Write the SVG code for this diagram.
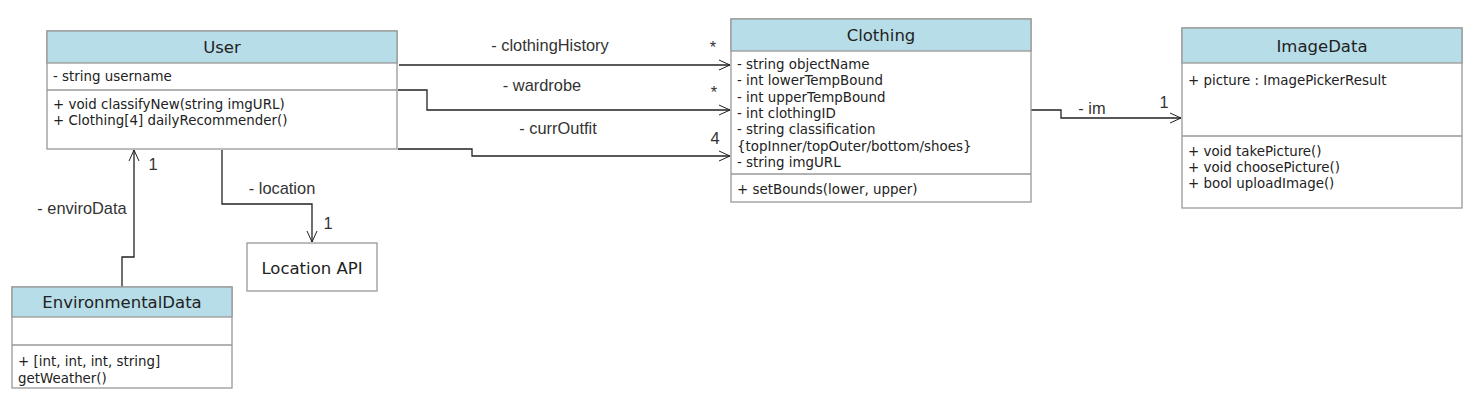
<svg xmlns="http://www.w3.org/2000/svg" width="1483" height="407" viewBox="0 0 1483 407">
<style>
.box{fill:#fff;stroke:#999;stroke-width:1.3}
.hdr{fill:#b7dde8;stroke:#999;stroke-width:1.3}
.sep{stroke:#999;stroke-width:1.3}
.t{font-family:"DejaVu Sans",Verdana,sans-serif;font-size:13.4px;fill:#222}
.title{font-family:"DejaVu Sans",Verdana,sans-serif;font-size:16.5px;fill:#222;text-anchor:middle}
.lbl{font-family:"Liberation Sans",Arial,sans-serif;font-size:16.4px;fill:#333}
.c{fill:none;stroke:#222;stroke-width:1.3}
</style>
<defs>
<marker id="open" viewBox="0 0 12 12" refX="11" refY="6" markerWidth="12" markerHeight="12" markerUnits="userSpaceOnUse" orient="auto">
<path d="M0,1 L11,6 L0,11" fill="none" stroke="#222" stroke-width="1"/>
</marker>
</defs>
<rect width="1483" height="407" fill="#fff"/>

<g id="connectors">
<path class="c" d="M399,65 H730" marker-end="url(#open)"/>
<path class="c" d="M398,90 H427 V110 H730" marker-end="url(#open)"/>
<path class="c" d="M398,149 H472 V156 H730" marker-end="url(#open)"/>
<path class="c" d="M1031,110 H1061 V118 H1181" marker-end="url(#open)"/>
<path class="c" d="M122,287 V257 H134 V150" marker-end="url(#open)"/>
<path class="c" d="M222,150 V204 H312 V242" marker-end="url(#open)"/>
<text class="lbl" x="550" y="51" text-anchor="middle">- clothingHistory</text>
<text class="lbl" x="713" y="53" text-anchor="middle">*</text>
<text class="lbl" x="542" y="91" text-anchor="middle">- wardrobe</text>
<text class="lbl" x="714" y="98" text-anchor="middle">*</text>
<text class="lbl" x="558" y="134" text-anchor="middle">- currOutfit</text>
<text class="lbl" x="715" y="144" text-anchor="middle">4</text>
<text class="lbl" x="1092" y="114" text-anchor="middle">- im</text>
<text class="lbl" x="1164" y="108" text-anchor="middle">1</text>
<text class="lbl" x="82" y="214" text-anchor="middle">- enviroData</text>
<text class="lbl" x="153" y="170" text-anchor="middle">1</text>
<text class="lbl" x="282" y="194" text-anchor="middle">- location</text>
<text class="lbl" x="328" y="229" text-anchor="middle">1</text>
</g>

<g id="User">
<rect class="box" x="47" y="31" width="350" height="118"/>
<rect class="hdr" x="47" y="31" width="350" height="32"/>
<line class="sep" x1="47" y1="90" x2="397" y2="90"/>
<text class="title" x="222" y="53">User</text>
<text class="t" x="53" y="81">- string username</text>
<text class="t" x="53" y="109">+ void classifyNew(string imgURL)</text>
<text class="t" x="53" y="125">+ Clothing[4] dailyRecommender()</text>
</g>

<g id="Clothing">
<rect class="box" x="731" y="19" width="300" height="183"/>
<rect class="hdr" x="731" y="19" width="300" height="32"/>
<line class="sep" x1="731" y1="174" x2="1031" y2="174"/>
<text class="title" x="881" y="41">Clothing</text>
<text class="t" x="737" y="69">- string objectName</text>
<text class="t" x="737" y="85">- int lowerTempBound</text>
<text class="t" x="737" y="102">- int upperTempBound</text>
<text class="t" x="737" y="118">- int clothingID</text>
<text class="t" x="737" y="134">- string classification</text>
<text class="t" x="737" y="151">{topInner/topOuter/bottom/shoes}</text>
<text class="t" x="737" y="167">- string imgURL</text>
<text class="t" x="737" y="194">+ setBounds(lower, upper)</text>
</g>

<g id="ImageData">
<rect class="box" x="1182" y="28" width="280" height="180"/>
<rect class="hdr" x="1182" y="28" width="280" height="35"/>
<line class="sep" x1="1182" y1="136" x2="1462" y2="136"/>
<text class="title" x="1322" y="52">ImageData</text>
<text class="t" x="1188" y="85">+ picture : ImagePickerResult</text>
<text class="t" x="1188" y="156">+ void takePicture()</text>
<text class="t" x="1188" y="172">+ void choosePicture()</text>
<text class="t" x="1188" y="188">+ bool uploadImage()</text>
</g>

<g id="LocationAPI">
<rect class="box" x="247" y="243" width="130" height="48"/>
<text class="title" x="312" y="274">Location API</text>
</g>

<g id="EnvironmentalData">
<rect class="box" x="12" y="287" width="220" height="101"/>
<rect class="hdr" x="12" y="287" width="220" height="30"/>
<line class="sep" x1="12" y1="345" x2="232" y2="345"/>
<text class="title" x="122" y="308">EnvironmentalData</text>
<text class="t" x="18" y="366">+ [int, int, int, string]</text>
<text class="t" x="18" y="383">getWeather()</text>
</g>
</svg>
